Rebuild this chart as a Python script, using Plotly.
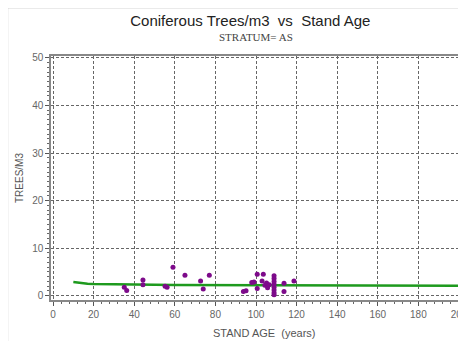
import plotly.graph_objects as go

# observed stand plots (age in years, coniferous trees per m3)
age_obs = [35.1, 36.3, 44.3, 44.3, 55.2, 56.2, 59.1, 65.0, 72.7, 74.0, 77.0,
           93.8, 95.1, 97.9, 99.0, 100.6, 100.6, 103.6, 103.0, 104.4, 105.2,
           105.7, 106.5, 108.9, 108.9, 108.9, 108.9, 108.9, 108.9, 108.9,
           108.9, 113.8, 113.8, 118.7]
trees_obs = [1.8, 1.1, 3.3, 2.3, 2.0, 1.8, 6.0, 4.3, 3.1, 1.4, 4.3,
             0.9, 1.05, 2.8, 2.9, 4.5, 1.5, 4.5, 3.1, 2.2, 2.7,
             1.7, 2.3, 4.2, 3.6, 3.0, 2.4, 1.8, 1.2, 0.6,
             0.2, 2.6, 0.9, 3.1]

# fitted curve
age_fit = [10, 12, 14, 17, 20, 25, 30, 40, 50, 60, 70, 80, 90, 100, 110,
           120, 130, 140, 150, 160, 170, 180, 190, 200]
trees_fit = [2.9, 2.75, 2.6, 2.5, 2.45, 2.4, 2.35, 2.3, 2.3, 2.25, 2.25, 2.2,
             2.2, 2.2, 2.2, 2.2, 2.2, 2.2, 2.2, 2.15, 2.2, 2.15, 2.15, 2.1]

x_ticks = [0, 20, 40, 60, 80, 100, 120, 140, 160, 180, 200]
y_ticks = [0, 10, 20, 30, 40, 50]

fig = go.Figure()
fig.add_trace(go.Scatter(x=age_fit, y=trees_fit, mode="lines",
                         line=dict(color="#1e9a1e", width=2.5), showlegend=False))
fig.add_trace(go.Scatter(x=age_obs, y=trees_obs, mode="markers",
                         marker=dict(color="#7d0a8a", size=5), showlegend=False))

grid = dict(showgrid=True, gridcolor="#666", griddash="3px,2px", gridwidth=1,
            showline=True, linecolor="#888", linewidth=1.5, mirror=True,
            ticks="outside", ticklen=4, tickcolor="#555", zeroline=False,
            automargin=False,
            tickfont=dict(family="Arial", size=10, color="#666"))

fig.update_xaxes(range=[-1, 201], tickvals=x_ticks, **grid,
                 minor=dict(dtick=4, ticks="outside", ticklen=2, tickcolor="#666"))
fig.update_yaxes(range=[-0.9, 50.4], tickvals=y_ticks, **grid,
                 minor=dict(dtick=1, ticks="outside", ticklen=2, tickcolor="#666"))

# page body adds an 8px offset, so the margins are shifted to compensate
fig.update_layout(
    width=466, height=341,
    margin=dict(l=43, r=13, t=48, b=49),
    paper_bgcolor="white", plot_bgcolor="white",
    title=dict(text="Coniferous Trees/m3  vs  Stand Age", x=0.52, xanchor="center",
               y=0.962, yanchor="middle",
               font=dict(family="Arial", size=15, color="#222")),
    annotations=[
        dict(text="STRATUM= AS", xref="paper", yref="paper",
             x=0.5, y=1.078, showarrow=False, yanchor="middle",
             font=dict(family="Liberation Serif", size=11, color="#444")),
        dict(text="STAND AGE  (years)", xref="paper", yref="paper",
             x=0.52, y=-0.135, showarrow=False, yanchor="middle",
             font=dict(family="Arial", size=11, color="#555")),
        dict(text="TREES/M3", xref="paper", yref="paper", textangle=-90,
             x=-0.078, y=0.5, showarrow=False, xanchor="center",
             font=dict(family="Arial", size=10, color="#555")),
    ],
    shapes=[
        dict(type="line", xref="paper", yref="paper", x0=-0.107, x1=-0.107,
             y0=-0.3, y1=1.2, line=dict(color="#aaa", width=2)),
        dict(type="line", xref="paper", yref="paper", x0=-0.107, x1=1.02,
             y0=1.2, y1=1.2, line=dict(color="#aaa", width=2)),
    ],
)

fig.write_html("out.html")
